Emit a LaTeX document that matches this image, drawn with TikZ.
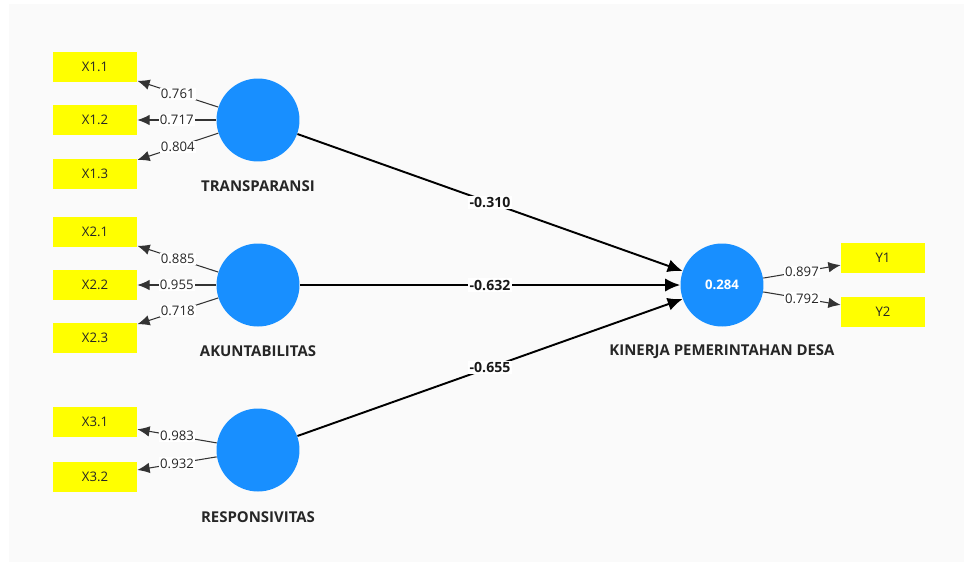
\documentclass[tikz,border=0pt]{standalone}
\usepackage{fontspec}
\setsansfont{Open Sans}
\usetikzlibrary{arrows.meta}
\definecolor{lvblue}{RGB}{24,143,255}
\definecolor{mvyellow}{RGB}{255,255,0}

\begin{document}
\begin{tikzpicture}
[x=0.02cm,y=-0.02cm,
 latent/.style={circle,fill=lvblue,inner sep=0pt,minimum size=1.66cm,text=white,font=\sffamily\fontsize{7.5}{9}\selectfont\bfseries},
 indicator/.style={rectangle,fill=mvyellow,inner sep=0pt,minimum width=1.68cm,minimum height=0.6cm,text=black!85,font=\sffamily\fontsize{7.5}{9}\selectfont},
 lvname/.style={text=black!85,font=\sffamily\bfseries\fontsize{8.5}{10}\selectfont},
 loading/.style={-{Latex[length=7pt,width=6pt]},draw=black!80,line width=0.6pt},
 coef/.style={-{Latex[length=8.5pt,width=7.5pt]},draw=black,line width=1.1pt},
 weight/.style={fill=white,inner sep=0.6pt,text=black!85,font=\sffamily\fontsize{7.5}{9}\selectfont},
 coefval/.style={fill=white,inner sep=0.8pt,text=black!90,font=\sffamily\bfseries\fontsize{8}{9}\selectfont}]
\fill[black!2] (9,4) rectangle (964,562);
\useasboundingbox (0,0) rectangle (964,562);

% latent variables
\node[latent] (T) at (258,120) {};
\node[latent] (A) at (258,285) {};
\node[latent] (R) at (258,450) {};
\node[latent] (K) at (722,285) {0.284};

\node[lvname] (Tn) at (258,186) {TRANSPARANSI};
\node[lvname] (An) at (258,351) {AKUNTABILITAS};
\node[lvname] (Rn) at (258,517) {RESPONSIVITAS};
\node[lvname] (Kn) at (722,352) {KINERJA PEMERINTAHAN DESA};

% indicators
\node[indicator] (X11) at (95,67) {X1.1};
\node[indicator] (X12) at (95,120) {X1.2};
\node[indicator] (X13) at (95,174) {X1.3};
\node[indicator] (X21) at (95,232) {X2.1};
\node[indicator] (X22) at (95,285) {X2.2};
\node[indicator] (X23) at (95,338) {X2.3};
\node[indicator] (X31) at (95,422) {X3.1};
\node[indicator] (X32) at (95,477) {X3.2};
\node[indicator] (Y1) at (883,258) {Y1};
\node[indicator] (Y2) at (883,312) {Y2};

% outer loadings
\draw [loading] (T) -- node[weight] {0.761} (X11);
\draw [loading] (T) -- node[weight] {0.717} (X12);
\draw [loading] (T) -- node[weight] {0.804} (X13);
\draw [loading] (A) -- node[weight] {0.885} (X21);
\draw [loading] (A) -- node[weight] {0.955} (X22);
\draw [loading] (A) -- node[weight] {0.718} (X23);
\draw [loading] (R) -- node[weight] {0.983} (X31);
\draw [loading] (R) -- node[weight] {0.932} (X32);
\draw [loading] (K) -- node[weight] {0.897} (Y1);
\draw [loading] (K) -- node[weight] {0.792} (Y2);

% path coefficients
\draw [coef] (T) -- node[coefval] {-0.310} (K);
\draw [coef] (A) -- node[coefval] {-0.632} (K);
\draw [coef] (R) -- node[coefval] {-0.655} (K);
\end{tikzpicture}
\end{document}
